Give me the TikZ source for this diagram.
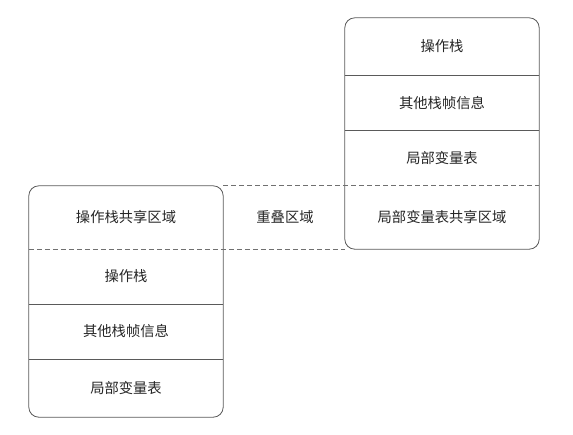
\documentclass[tikz,border=0pt]{standalone}
\usepackage{fontspec}
\newfontfamily\cjk{Noto Sans CJK SC}
\definecolor{linegray}{HTML}{5A5A5A}
\definecolor{dashgray}{HTML}{707070}
\definecolor{txt}{HTML}{252525}
\begin{document}
\begin{tikzpicture}[x=1pt,y=-1pt,
  cell/.style={rectangle, inner sep=0pt, minimum width=194pt, text=txt,
    font=\cjk\fontsize{14.3}{16}\selectfont},
  frame/.style={draw=linegray, line width=0.8pt},
  overlapline/.style={draw=dashgray, line width=0.8pt, dash pattern=on 5pt off 3pt}]
\useasboundingbox (0,0) rectangle (573,434);
% right stack
\node[cell, minimum height=57pt]   (r1) at (442,46.5)  {操作栈};
\node[cell, minimum height=55.5pt] (r2) at (442,102.75) {其他栈帧信息};
\node[cell, minimum height=55.5pt] (r3) at (442,158.25) {局部变量表};
\node[cell, minimum height=63pt]   (r4) at (442,217.5) {局部变量表共享区域};
% left stack
\node[cell, minimum height=63pt]   (l1) at (126,217.5) {操作栈共享区域};
\node[cell, minimum height=55pt]   (l2) at (126,276.5) {操作栈};
\node[cell, minimum height=55pt]   (l3) at (126,331.5) {其他栈帧信息};
\node[cell, minimum height=58pt]   (l4) at (126,388)   {局部变量表};
% overlap label
\node[cell, minimum width=0pt] (ov) at (285,217.5) {重叠区域};
% frames
\draw[frame, rounded corners=10pt] (r1.north west) rectangle (r4.south east);
\draw[frame] (r1.south west) -- (r1.south east);
\draw[frame] (r2.south west) -- (r2.south east);
\draw[frame, rounded corners=10pt] (l1.north west) rectangle (l4.south east);
\draw[frame] (l2.south west) -- (l2.south east);
\draw[frame] (l3.south west) -- (l3.south east);
% dashed overlap bounds
\draw[overlapline] (l1.north east) -- (r4.north east);
\draw[overlapline] (l1.south west) -- (r4.south west);
\end{tikzpicture}
\end{document}
